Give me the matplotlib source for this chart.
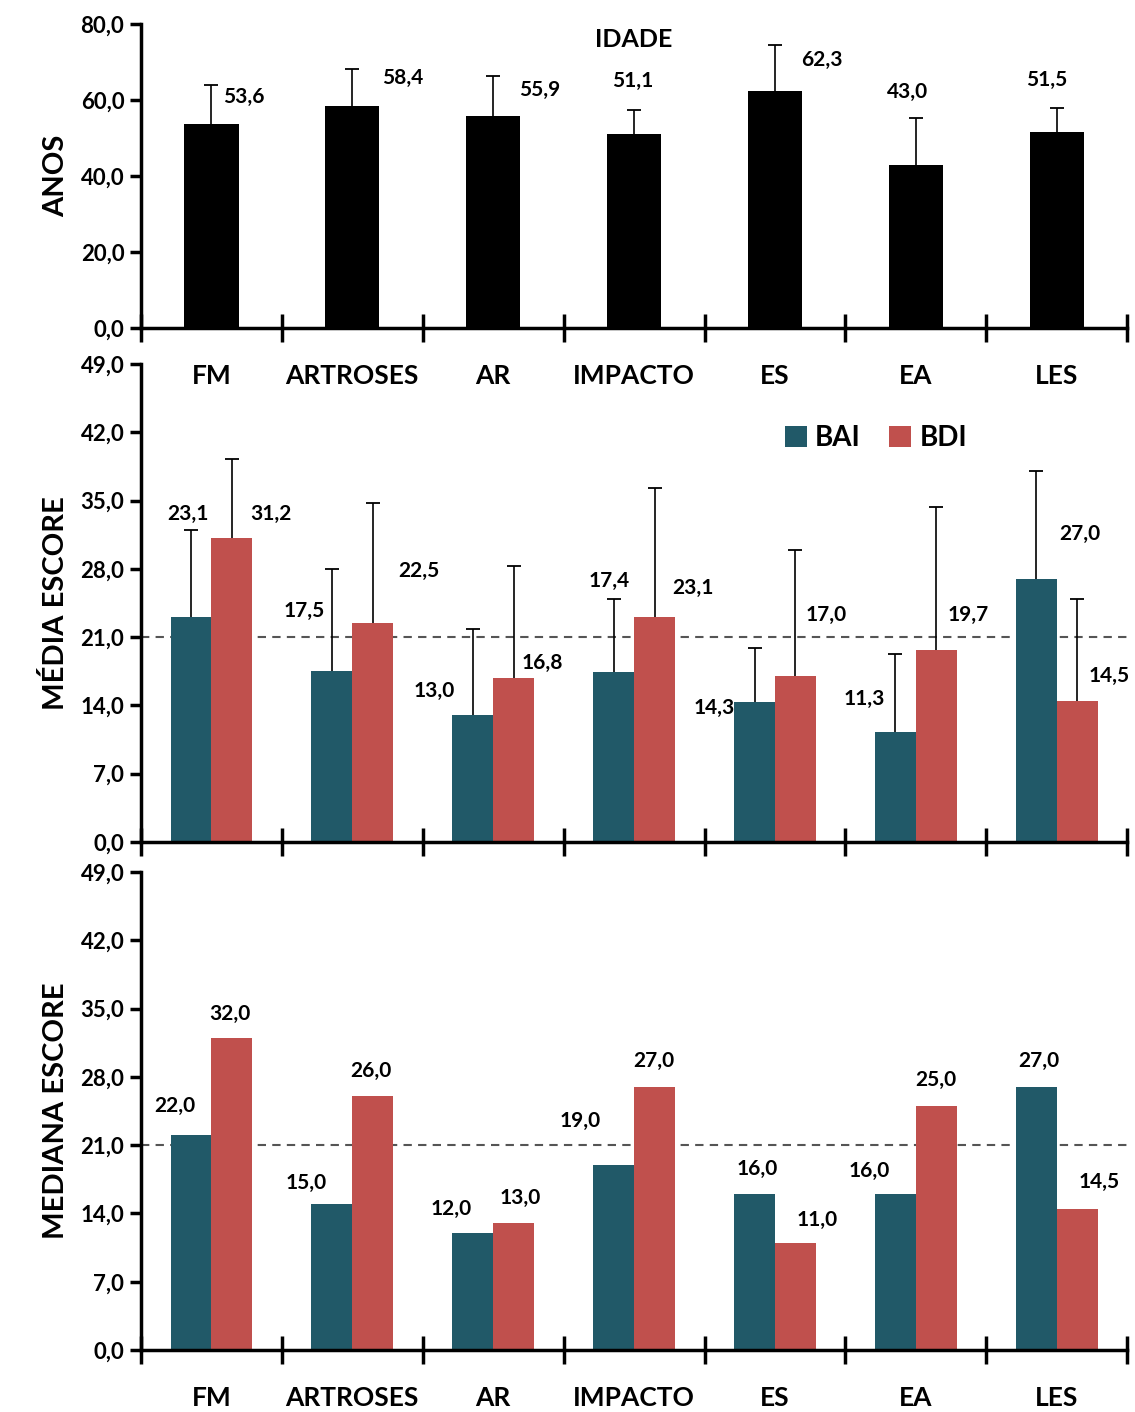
import matplotlib
matplotlib.use("Agg")
import matplotlib.pyplot as plt
import numpy as np
from matplotlib.ticker import FuncFormatter

plt.rcParams['font.family'] = ['Lato', 'DejaVu Sans']
plt.rcParams['font.weight'] = 'bold'
plt.rcParams['axes.labelweight'] = 'bold'

# --- data ---
categorias = ["FM", "ARTROSES", "AR", "IMPACTO", "ES", "EA", "LES"]
idade = [53.6, 58.4, 55.9, 51.1, 62.3, 43.0, 51.5]
idade_dp = [10.4, 9.8, 10.4, 6.4, 12.2, 12.3, 6.4]

media_bai = [23.1, 17.5, 13.0, 17.4, 14.3, 11.3, 27.0]
media_bdi = [31.2, 22.5, 16.8, 23.1, 17.0, 19.7, 14.5]
media_bai_dp = [8.9, 10.5, 8.8, 7.5, 5.6, 8.0, 11.0]
media_bdi_dp = [8.1, 12.3, 11.5, 13.2, 12.9, 14.6, 10.4]

mediana_bai = [22.0, 15.0, 12.0, 19.0, 16.0, 16.0, 27.0]
mediana_bdi = [32.0, 26.0, 13.0, 27.0, 11.0, 25.0, 14.5]

corte = 21.0

# label placement (category offset, height) - hand tuned like the original
lab_idade = [(0.23, 60.8), (0.36, 65.8), (0.33, 62.6), (-0.01, 65.0),
             (0.33, 70.5), (-0.06, 62.1), (-0.07, 65.3)]
lab_media_bai = [(-0.17, 33.6), (-0.34, 23.7), (-0.42, 15.5), (-0.18, 26.8),
                 (-0.43, 13.7), (-0.37, 14.7), (0.16, 31.6)]
lab_media_bdi = [(0.42, 33.6), (0.47, 27.8), (0.35, 18.4), (0.42, 26.0),
                 (0.36, 23.3), (0.37, 23.3), (0.37, 17.0)]
lab_med_bai = [(-0.26, 25.0), (-0.33, 17.1), (-0.30, 14.5), (-0.38, 23.5),
               (-0.13, 18.6), (-0.33, 18.4), (-0.13, 29.6)]
lab_med_bdi = [(0.13, 34.5), (0.13, 28.6), (0.19, 15.6), (0.14, 29.6),
               (0.30, 13.3), (0.14, 27.7), (0.30, 17.2)]

cor_bai = "#215968"
cor_bdi = "#C0504D"

x = np.arange(len(categorias))
virg = FuncFormatter(lambda v, p: ("%.1f" % v).replace(".", ","))


def fmt(v):
    return ("%.1f" % v).replace(".", ",")


def barra_erro(ax, xs, vals, dps):
    # only the upper half, like the excel chart
    topo = np.array(vals) + np.array(dps)
    ax.vlines(xs, vals, topo, color="black", lw=1.2, zorder=3)
    ax.plot(xs, topo, ls="none", marker="_", ms=10, mew=1.3, color="black", zorder=3)


def estilo(ax, ymax, passo, rotulos):
    ax.patch.set_visible(False)
    ax.set_xlim(-0.5, len(categorias) - 0.5)
    ax.set_ylim(0, ymax)
    ax.set_yticks(np.arange(0, ymax + 0.01, passo))
    ax.yaxis.set_major_formatter(virg)
    for s in ["top", "right"]:
        ax.spines[s].set_visible(False)
    for s in ["left", "bottom"]:
        ax.spines[s].set_linewidth(2.5)
    ax.tick_params(axis="y", direction="out", length=8, width=2.5, labelsize=16, pad=4)
    ax.set_xticks(np.arange(-0.5, len(categorias)))
    ax.set_xticklabels([])
    ax.tick_params(axis="x", which="major", direction="inout", length=20, width=2.5)
    ax.set_xticks(x, minor=True)
    if rotulos:
        ax.set_xticklabels(categorias, minor=True, fontweight="bold")
    ax.tick_params(axis="x", which="minor", length=0, labelsize=19, pad=26)
    for t in ax.get_yticklabels():
        t.set_fontweight("bold")


fig = plt.figure(figsize=(11.35, 14.12), dpi=100)
esq, larg = 0.1242, 0.869
ax1 = fig.add_axes([esq, 0.7677, larg, 0.2153])
ax2 = fig.add_axes([esq, 0.4037, larg, 0.3385])
ax3 = fig.add_axes([esq, 0.0439, larg, 0.3385])

# --- idade ---
ax1.bar(x, idade, width=0.385, color="black", zorder=2)
barra_erro(ax1, x, idade, idade_dp)
estilo(ax1, 80, 20, True)
ax1.set_ylabel("ANOS", fontsize=21, labelpad=8, fontweight="bold")
ax1.text(3.0, 76, "IDADE", ha="center", va="center", fontsize=18, fontweight="bold")
for i, v in enumerate(idade):
    dx, h = lab_idade[i]
    ax1.text(i + dx, h, fmt(v), ha="center", va="center", fontsize=15, fontweight="bold")

# --- media ---
w = 0.29
ax2.axhline(corte, color="#555555", ls=(0, (4, 3)), lw=1.5, zorder=1)
ax2.bar(x - w / 2, media_bai, width=w, color=cor_bai, label="BAI", zorder=2)
ax2.bar(x + w / 2, media_bdi, width=w, color=cor_bdi, label="BDI", zorder=2)
barra_erro(ax2, x - w / 2, media_bai, media_bai_dp)
barra_erro(ax2, x + w / 2, media_bdi, media_bdi_dp)
estilo(ax2, 49, 7, False)
ax2.set_ylabel("MÉDIA ESCORE", fontsize=21, labelpad=8, fontweight="bold")
for i in range(len(x)):
    dx, h = lab_media_bai[i]
    ax2.text(i + dx, h, fmt(media_bai[i]), ha="center", va="center", fontsize=15, fontweight="bold")
    dx, h = lab_media_bdi[i]
    ax2.text(i + dx, h, fmt(media_bdi[i]), ha="center", va="center", fontsize=15, fontweight="bold")
ax2.legend(loc="center", bbox_to_anchor=(0.745, 0.845), ncol=2, frameon=False,
           prop={"size": 20, "weight": "bold"}, handlelength=0.8, handleheight=0.8,
           handletextpad=0.3, columnspacing=1.0)

# --- mediana ---
ax3.axhline(corte, color="#555555", ls=(0, (4, 3)), lw=1.5, zorder=1)
ax3.bar(x - w / 2, mediana_bai, width=w, color=cor_bai, zorder=2)
ax3.bar(x + w / 2, mediana_bdi, width=w, color=cor_bdi, zorder=2)
estilo(ax3, 49, 7, True)
ax3.set_ylabel("MEDIANA ESCORE", fontsize=21, labelpad=8, fontweight="bold")
for i in range(len(x)):
    dx, h = lab_med_bai[i]
    ax3.text(i + dx, h, fmt(mediana_bai[i]), ha="center", va="center", fontsize=15, fontweight="bold")
    dx, h = lab_med_bdi[i]
    ax3.text(i + dx, h, fmt(mediana_bdi[i]), ha="center", va="center", fontsize=15, fontweight="bold")

fig.savefig("out.png", dpi=100, facecolor="white")
